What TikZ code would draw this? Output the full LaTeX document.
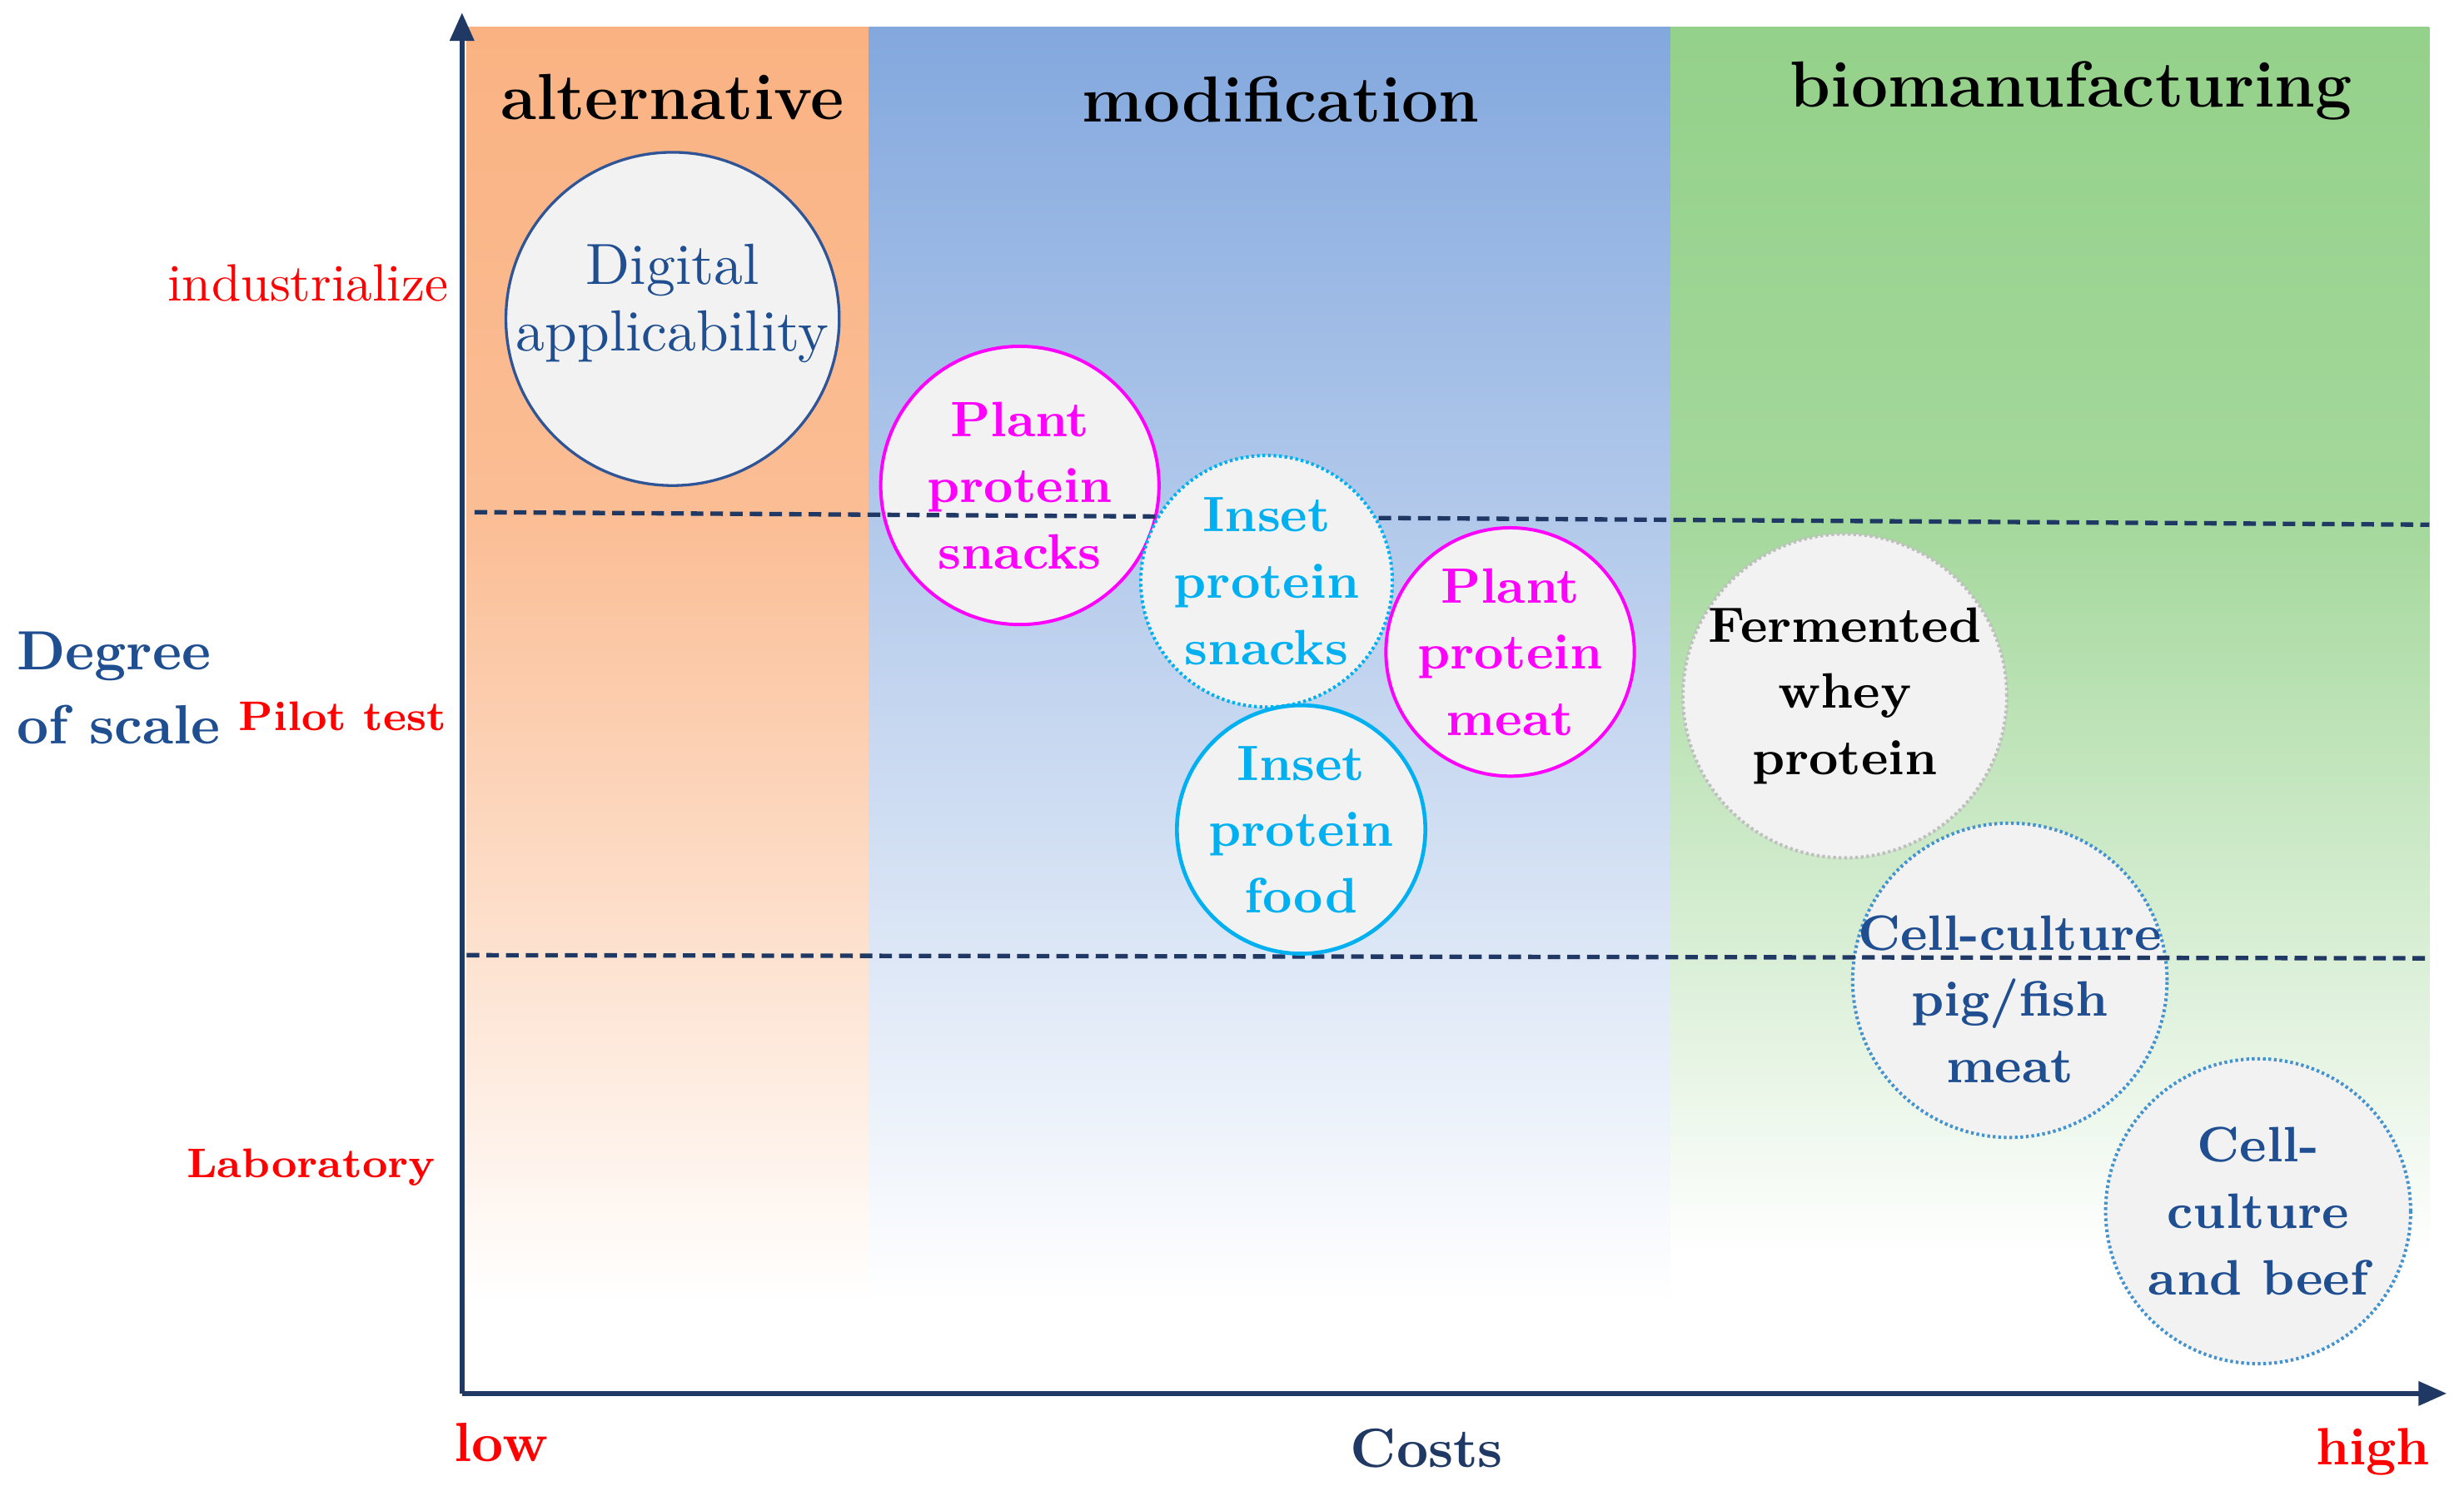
\documentclass[tikz,border=0pt]{standalone}
\usepackage{fontspec}
\usetikzlibrary{positioning,arrows.meta}

\definecolor{navy}{RGB}{31,56,100}
\definecolor{textblue}{RGB}{31,78,145}
\definecolor{bubblegray}{RGB}{242,242,242}
\definecolor{pinkline}{RGB}{255,0,255}
\definecolor{skyline}{RGB}{0,176,240}
\definecolor{cellline}{RGB}{68,146,206}
\definecolor{digiline}{RGB}{47,85,151}
\definecolor{orangetop}{RGB}{250,178,130}
\definecolor{bluetop}{RGB}{131,168,222}
\definecolor{greentop}{RGB}{148,209,138}

\begin{document}
\begin{tikzpicture}[x=0.01cm, y=-0.01cm,
  every node/.style={inner sep=0pt},
  bubble/.style={circle, fill=bubblegray, align=center, line width=0.6pt, inner sep=-12pt,
    font=\fontsize{9}{12}\selectfont\bfseries},
  bubbletext/.style={align=center, inner sep=0pt, font=\fontsize{9}{12}\selectfont\bfseries},
  dotline/.style={dash pattern=on 0.5pt off 0.5pt},
  band/.style={font=\fontsize{11.8}{14}\selectfont\bfseries},
  stage/.style={text=red, font=\fontsize{7.5}{10}\selectfont\bfseries},
  divider/.style={draw=navy, line width=0.8pt, dash pattern=on 0.8mm off 0.45mm},
  axis/.style={draw=navy, line width=0.9pt, -{Triangle[length=1.8mm,width=1.5mm]}}]
  \useasboundingbox (0,0) rectangle (1568,955);

  % coloured bands
  \shade[top color=orangetop, bottom color=orangetop!85!white] (297,17) rectangle (553,330);
  \shade[top color=orangetop!85!white, bottom color=white] (297,330) rectangle (553,830);
  \shade[top color=bluetop, bottom color=bluetop!62!white] (553,17) rectangle (1063,330);
  \shade[top color=bluetop!62!white, bottom color=white] (553,330) rectangle (1063,830);
  \shade[top color=greentop, bottom color=greentop!85!white] (1063,17) rectangle (1546,330);
  \shade[top color=greentop!85!white, bottom color=white] (1063,330) rectangle (1546,800);

  \node[band] (alt) at (428,62) {alternative};
  \node[band] (mod) at (815,63) {modification};
  \node[band] (bio) at (1318,58) {biomanufacturing};

  % bubbles under the dashed lines
  \node[bubble, draw=digiline, line width=0.5pt, minimum size=2.12cm,
    label={[bubbletext, text=textblue, font=\fontsize{10.5}{12}\selectfont, yshift=0.1cm]center:{Digital\\applicability}}]
    (digital) at (428,203) {};
  \node[bubble, draw=pinkline, minimum size=1.77cm, text=pinkline] (plantsnack) at (649,309) {Plant\\protein\\snacks};
  \node[bubble, draw=cellline, dotline, minimum size=2.0cm,
    label={[bubbletext, text=textblue, yshift=-0.12cm]center:{Cell-culture\\pig/fish\\meat}}]
    (cellpig) at (1279,624) {};

  % stage limits
  \coordinate (d1l) at (302,326);
  \coordinate (d1r) at (1546,334);
  \coordinate (d2l) at (297,608);
  \coordinate (d2r) at (1546,610);
  \draw[divider] (d1l) -- (d1r);
  \draw[divider] (d2l) -- (d2r);

  % bubbles over the dashed lines
  \node[bubble, draw=skyline, dotline, minimum size=1.6cm, text=skyline] (insetsnack) at (806,370) {Inset\\protein\\snacks};
  \node[bubble, draw=pinkline, minimum size=1.58cm, text=pinkline] (plantmeat) at (961,415) {Plant\\protein\\meat};
  \node[bubble, draw=skyline, line width=0.7pt, minimum size=1.58cm, text=skyline] (insetfood) at (828,528) {Inset\\protein\\food};
  \node[bubble, draw=black!25, dotline, minimum size=2.06cm, text=black] (whey) at (1174,443) {Fermented\\whey\\protein};
  \node[bubble, draw=cellline, dotline, minimum size=1.94cm, text=textblue] (cellbeef) at (1437,771) {Cell-\\culture\\and beef};

  % axes
  \coordinate (origin) at (294,887);
  \coordinate (ytip) at (294,8);
  \coordinate (xtip) at (1557,887);
  \draw[axis] (origin) -- (ytip);
  \draw[axis] (origin) -- (xtip);

  \node[text=red, font=\fontsize{9.5}{11}\selectfont] (indus) at (196,180) {industrialize};
  \node[stage] (pilot) at (218,456) {Pilot test};
  \node[stage] (lab) at (198,743) {Laboratory};
  \node[anchor=west, align=left, text=textblue, font=\fontsize{10}{13.5}\selectfont\bfseries] (degree) at (10,438) {Degree\\of scale};

  \node[text=red, font=\fontsize{10}{12}\selectfont\bfseries] (low) at (319,918) {low};
  \node[text=navy, font=\fontsize{10}{12}\selectfont\bfseries] (costs) at (908,922) {Costs};
  \node[text=red, font=\fontsize{9.5}{12}\selectfont\bfseries] (high) at (1510,924) {high};
\end{tikzpicture}
\end{document}
